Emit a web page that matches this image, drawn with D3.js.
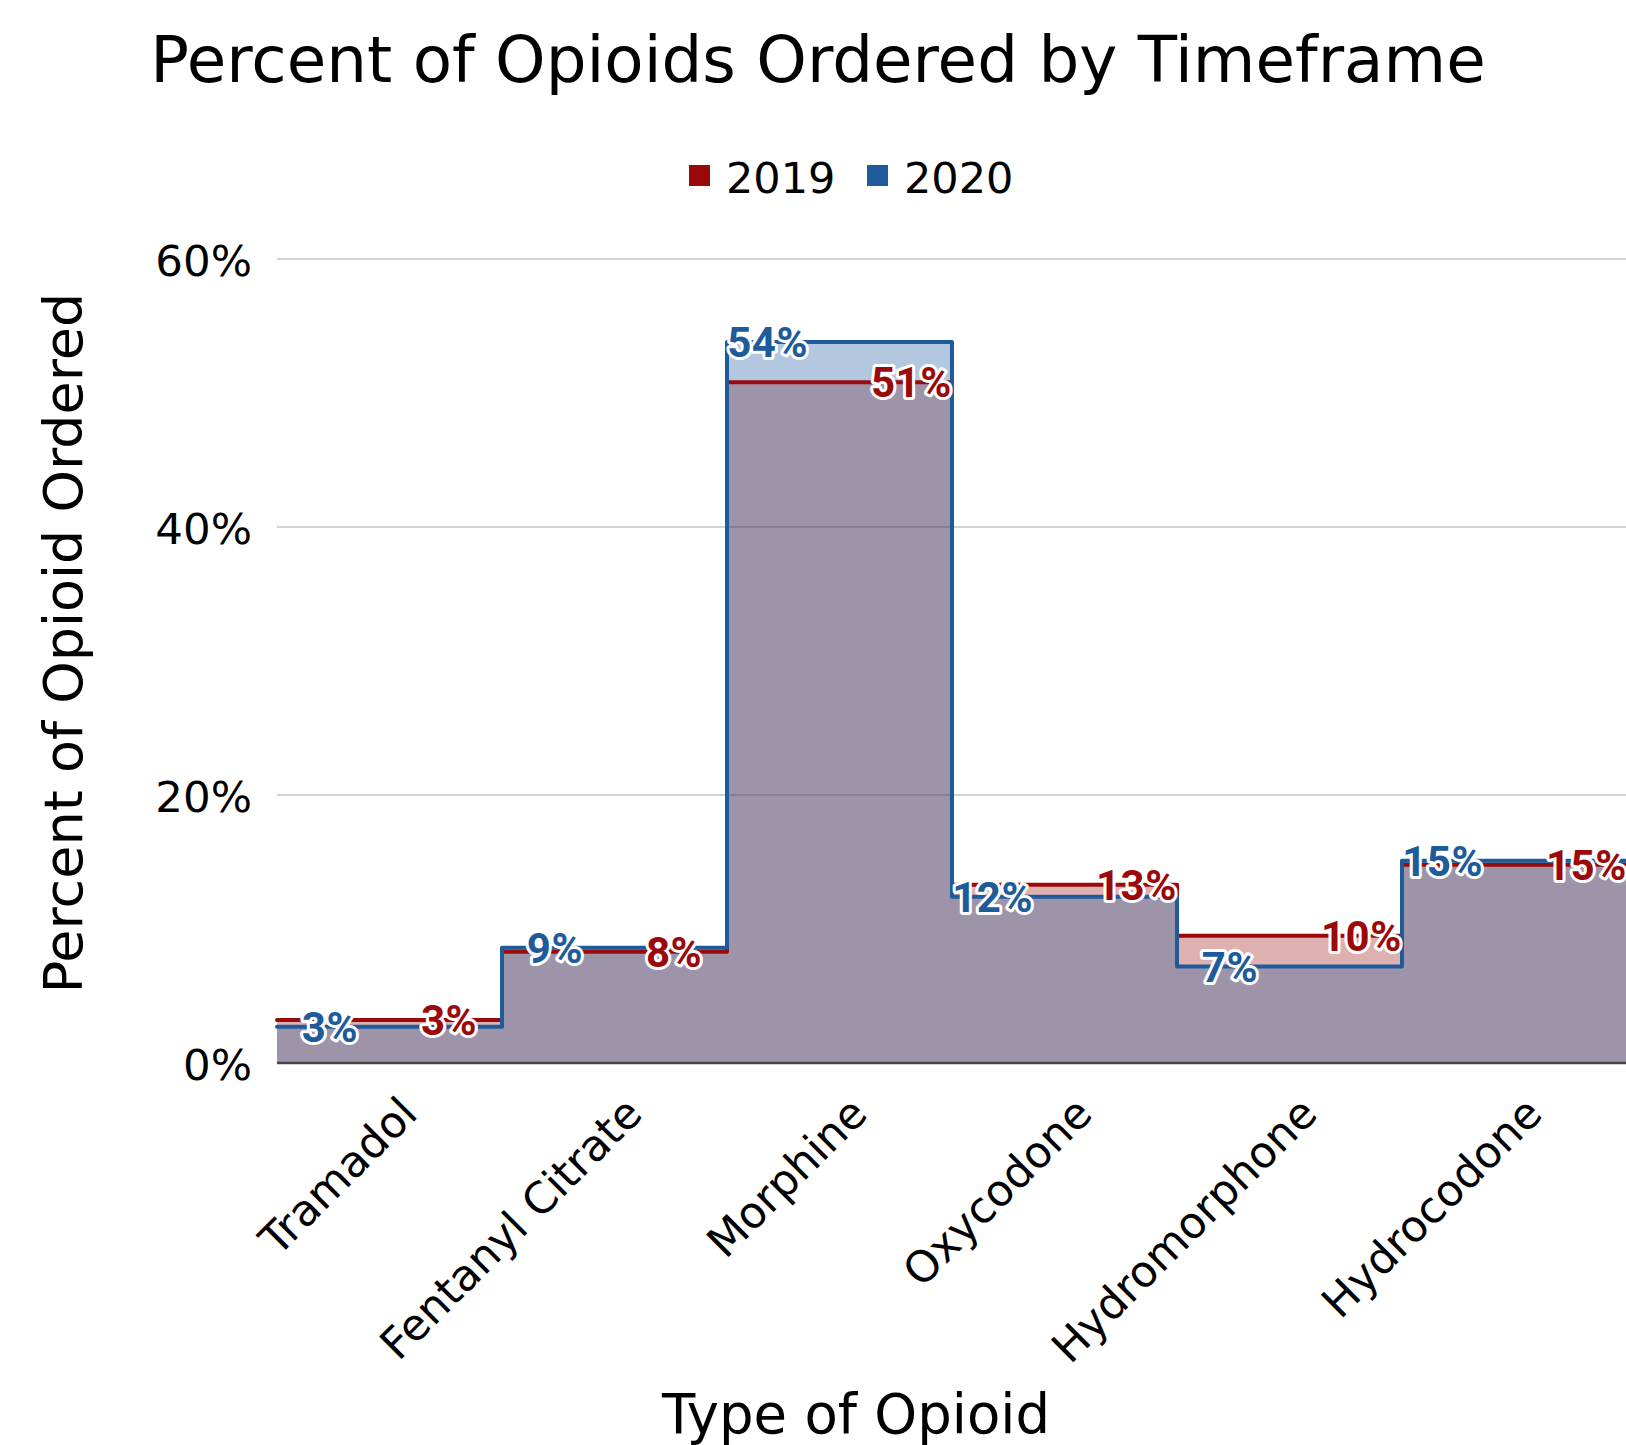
<!DOCTYPE html>
<html>
<head>
<meta charset="utf-8">
<script src="https://cdn.jsdelivr.net/npm/d3@7"></script>
<style>
  html, body { margin: 0; padding: 0; background: #fff; }
  svg { display: block; }
</style>
</head>
<body>
<svg id="chart" width="1626" height="1445"></svg>
<script>
const categories = ["Tramadol", "Fentanyl Citrate", "Morphine", "Oxycodone", "Hydromorphone", "Hydrocodone"];
const values2019 = [3.2, 8.3, 50.8, 13.3, 9.5, 14.8];
const values2020 = [2.7, 8.6, 53.8, 12.4, 7.2, 15.1];
const seriesNames = ["2019", "2020"];
const yTicks = [0, 20, 40, 60];

const W = 1626, H = 1445;
const margin = { left: 277, right: -1, top: 259, bottom: 382 };
const svg = d3.select("#chart");
const FONT = "'DejaVu Sans', Verdana, sans-serif";

const x = d3.scaleBand().domain(categories).range([margin.left, W - margin.right]).padding(0);
const y = d3.scaleLinear().domain([0, 60]).range([H - margin.bottom, margin.top]);

const colors = { "2019": "#9b0a0a", "2020": "#1d5b9b" };
const fills = { "2019": "rgba(153,0,0,0.31)", "2020": "rgba(38,98,161,0.35)" };

// title
svg.append("text").attr("x", 818).attr("y", 82).attr("text-anchor", "middle")
  .attr("font-family", FONT).attr("font-size", 64.3).attr("fill", "#000")
  .text("Percent of Opioids Ordered by Timeframe");

// legend
const legendItems = [{ name: "2019", sx: 689, tx: 726 }, { name: "2020", sx: 867, tx: 904 }];
legendItems.forEach(d => {
  svg.append("rect").attr("x", d.sx).attr("y", 165).attr("width", 21).attr("height", 21)
    .attr("fill", colors[d.name]);
  svg.append("text").attr("x", d.tx).attr("y", 193).attr("font-family", FONT)
    .attr("font-size", 43).attr("fill", "#000").text(d.name);
});

// gridlines + y axis labels
const yAxis = d3.axisLeft(y).tickValues(yTicks).tickSize(0).tickPadding(25)
  .tickFormat(d => d + "%");
const gy = svg.append("g").attr("transform", `translate(${margin.left},0)`).call(yAxis);
gy.select(".domain").remove();
gy.selectAll("text").attr("font-family", FONT).attr("font-size", 43.5).attr("fill", "#000")
  .attr("dy", "0.37em");

svg.append("g").selectAll("line").data(yTicks.filter(t => t > 0)).join("line")
  .attr("x1", margin.left).attr("x2", W).attr("y1", d => y(d)).attr("y2", d => y(d))
  .attr("stroke", "#d3d3d3").attr("stroke-width", 2);

// step areas and lines
const xEnd = x.range()[1];
function pts(vals) {
  const p = categories.map((c, i) => [x(c), vals[i]]);
  p.push([xEnd, vals[vals.length - 1]]);
  return p;
}
const area = d3.area().curve(d3.curveStepAfter).x(d => d[0]).y0(y(0)).y1(d => y(d[1]));
const line = d3.line().curve(d3.curveStepAfter).x(d => d[0]).y(d => y(d[1]));

const series = [{ name: "2019", vals: values2019 }, { name: "2020", vals: values2020 }];
series.forEach(s => {
  svg.append("path").attr("d", area(pts(s.vals))).attr("fill", fills[s.name]);
});
series.forEach(s => {
  svg.append("path").attr("d", line(pts(s.vals))).attr("fill", "none")
    .attr("stroke", colors[s.name]).attr("stroke-width", 4)
    .attr("stroke-linejoin", "round").attr("stroke-linecap", "round");
});

// baseline
svg.append("line").attr("x1", margin.left).attr("x2", W).attr("y1", y(0)).attr("y2", y(0))
  .attr("stroke", "#444").attr("stroke-width", 2.5);

// data labels
const off = x.step() * 0.36;
function addLabels(s, anchor, xf) {
  svg.append("g").selectAll("text").data(categories).join("text")
    .attr("x", (c) => xf(c))
    .attr("y", (c, i) => y(s.vals[i]))
    .attr("dy", "0.36em")
    .attr("text-anchor", anchor)
    .attr("font-family", "Roboto, sans-serif").attr("font-weight", 700)
    .attr("font-size", 42).attr("letter-spacing", 0.5)
    .attr("fill", colors[s.name])
    .attr("stroke", "#fff").attr("stroke-width", 6).attr("stroke-linejoin", "round")
    .attr("paint-order", "stroke")
    .text((c, i) => Math.round(s.vals[i]) + "%");
}
addLabels(series[0], "start", c => x(c) + x.step() - off);
addLabels(series[1], "end", c => x(c) + off);

// x axis labels
const xAxis = d3.axisBottom(x).tickSize(0).tickPadding(0);
const gx = svg.append("g").attr("transform", `translate(0,${y(0)})`).call(xAxis);
gx.select(".domain").remove();
gx.selectAll("text")
  .attr("font-family", FONT).attr("font-size", 43.5).attr("fill", "#000")
  .attr("text-anchor", "end").attr("dy", 0)
  .attr("transform", "translate(30,53) rotate(-45)");

// axis titles
svg.append("text").attr("x", 856).attr("y", 1433).attr("text-anchor", "middle")
  .attr("font-family", FONT).attr("font-size", 54.5).attr("fill", "#000").text("Type of Opioid");
svg.append("text").attr("transform", "translate(82,643) rotate(-90)").attr("text-anchor", "middle")
  .attr("font-family", FONT).attr("font-size", 54).attr("fill", "#000").text("Percent of Opioid Ordered");
</script>
</body>
</html>
